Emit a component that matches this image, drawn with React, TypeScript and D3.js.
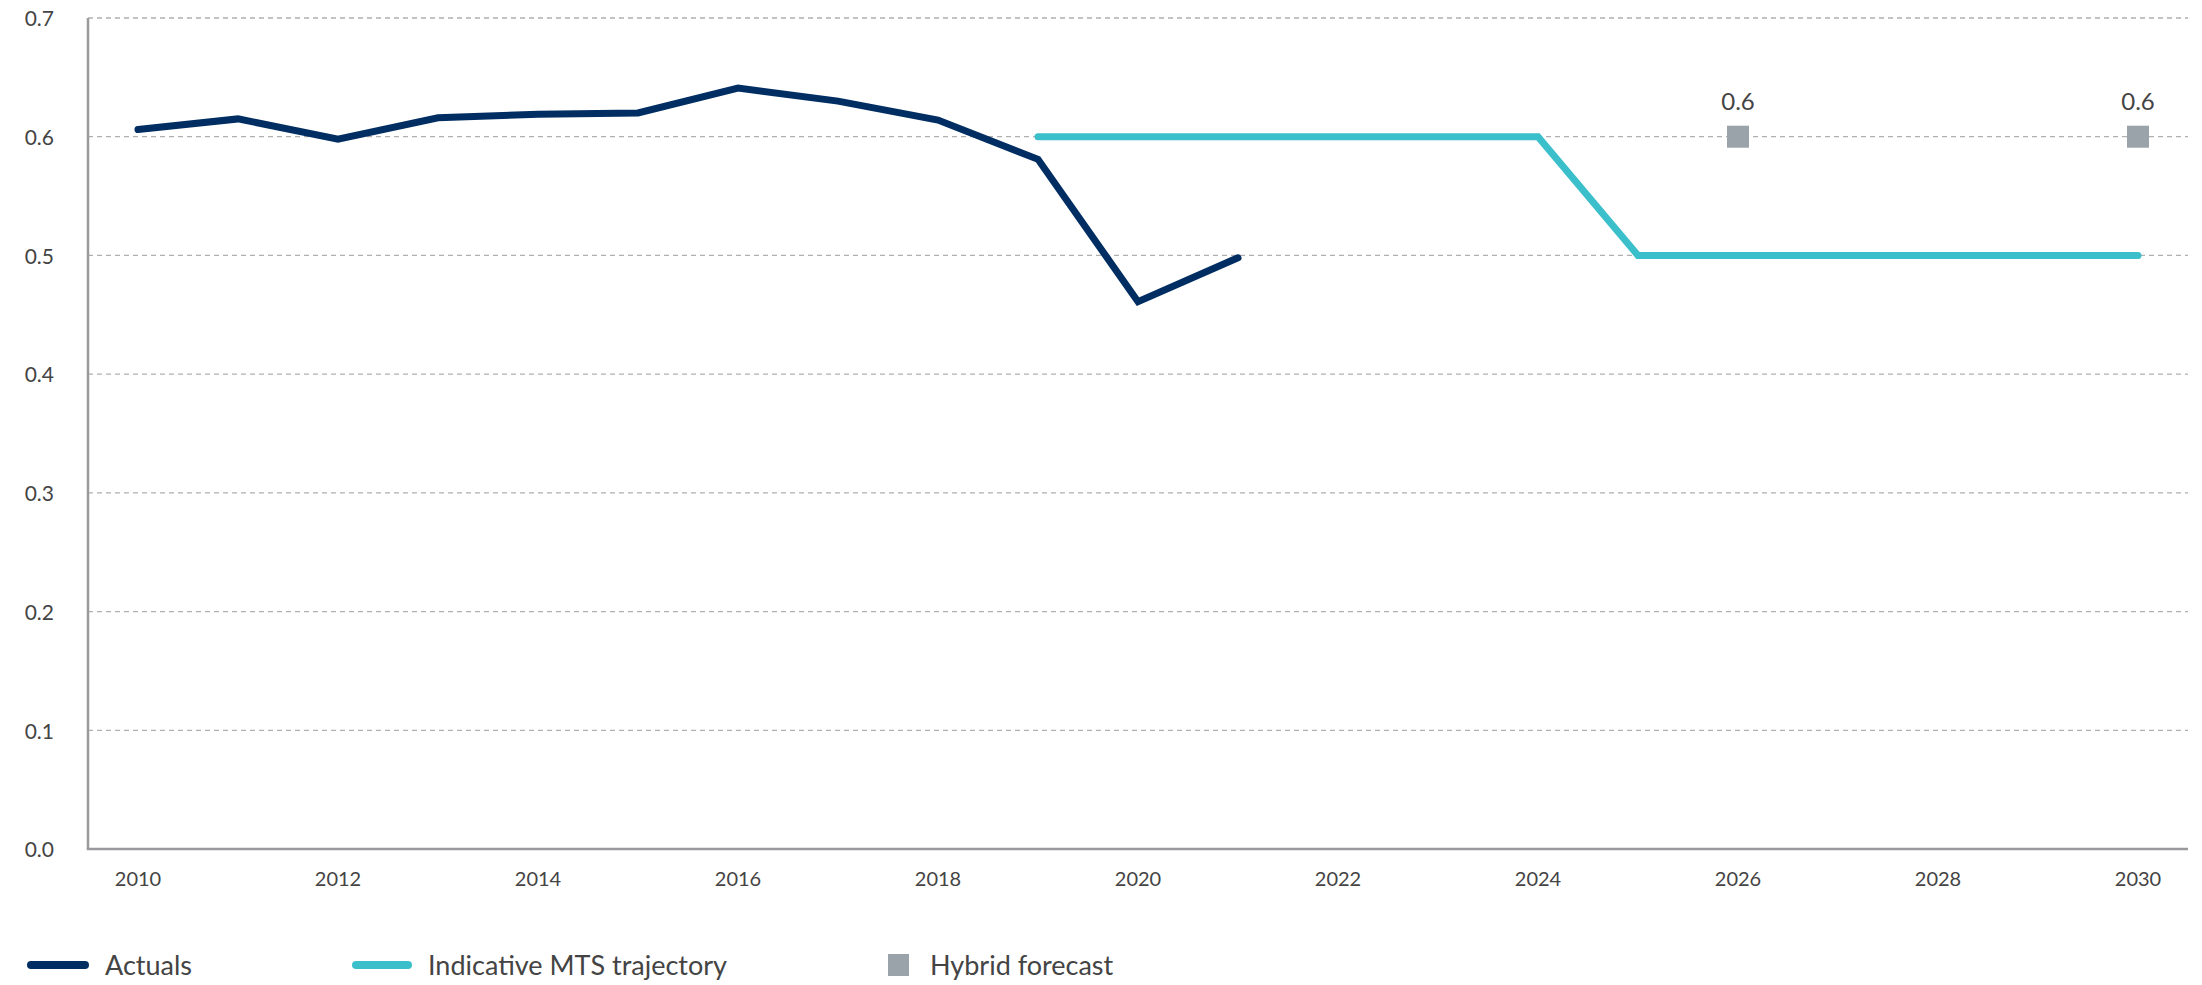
import React from "react";
import * as d3 from "d3";

// Series data
const years: number[] = d3.range(2010, 2031);
const actualYears: number[] = [2010, 2011, 2012, 2013, 2014, 2015, 2016, 2017, 2018, 2019, 2020, 2021];
const actualValues: number[] = [0.606, 0.615, 0.598, 0.616, 0.619, 0.62, 0.641, 0.63, 0.614, 0.581, 0.461, 0.498];
const mtsYears: number[] = [2019, 2020, 2021, 2022, 2023, 2024, 2025, 2026, 2027, 2028, 2029, 2030];
const mtsValues: number[] = [0.6, 0.6, 0.6, 0.6, 0.6, 0.6, 0.5, 0.5, 0.5, 0.5, 0.5, 0.5];
const hybridYears: number[] = [2026, 2030];
const hybridValues: number[] = [0.6, 0.6];
const yTicks: number[] = [0, 0.1, 0.2, 0.3, 0.4, 0.5, 0.6, 0.7];
const xTickYears: number[] = [2010, 2012, 2014, 2016, 2018, 2020, 2022, 2024, 2026, 2028, 2030];
const legendLabels: string[] = ["Actuals", "Indicative MTS trajectory", "Hybrid forecast"];

const W = 2202;
const H = 985;
const left = 88;
const right = 2188;
const top = 18;
const bottom = 849;

const NAVY = "#002d62";
const TEAL = "#3bbfca";
const GREY = "#99a3a9";
const AXIS = "#9a9a9e";
const FONT = "Lato, 'Open Sans', sans-serif";

export default function App() {
  const x = d3.scalePoint<number>().domain(years).range([left, right]).padding(0.5);
  const y = d3.scaleLinear().domain([0, 0.7]).range([bottom, top]);

  const line = d3
    .line<[number, number]>()
    .x((d) => x(d[0]) as number)
    .y((d) => y(d[1]));

  const actualPath = line(actualYears.map((yr, i) => [yr, actualValues[i]]) as [number, number][]) || "";
  const mtsPath = line(mtsYears.map((yr, i) => [yr, mtsValues[i]]) as [number, number][]) || "";

  const sq = 22;
  const legendY = 965;

  return (
    <svg
      width={W}
      height={H}
      style={{ position: "absolute", left: 0, top: 0, background: "#fff" }}
      fontFamily={FONT}
    >
      {/* gridlines */}
      {yTicks
        .filter((t) => t > 0)
        .map((t) => (
          <line
            key={"g" + t}
            x1={left}
            x2={right}
            y1={y(t)}
            y2={y(t)}
            stroke="#b0b0b0"
            strokeWidth={1.3}
            strokeDasharray="5,4"
          />
        ))}

      {/* axes */}
      <line x1={left} x2={left} y1={top} y2={bottom} stroke={AXIS} strokeWidth={2.5} />
      <line x1={left - 1.25} x2={right} y1={bottom} y2={bottom} stroke={AXIS} strokeWidth={2.5} />

      {/* y tick labels */}
      {yTicks.map((t) => (
        <text
          key={"y" + t}
          x={54}
          y={y(t) + 3}
          textAnchor="end"
          dominantBaseline="middle"
          fontSize={21}
          fill="#444"
        >
          {d3.format(".1f")(t)}
        </text>
      ))}

      {/* x tick labels */}
      {xTickYears.map((yr) => (
        <text
          key={"x" + yr}
          x={x(yr) as number}
          y={886}
          textAnchor="middle"
          fontSize={20}
          fill="#444"
        >
          {yr}
        </text>
      ))}

      {/* series */}
      <path d={mtsPath} fill="none" stroke={TEAL} strokeWidth={7} strokeLinecap="round" strokeLinejoin="miter" />
      <path d={actualPath} fill="none" stroke={NAVY} strokeWidth={7} strokeLinecap="round" strokeLinejoin="miter" />

      {hybridYears.map((yr, i) => (
        <g key={"h" + yr}>
          <rect
            x={(x(yr) as number) - sq / 2}
            y={y(hybridValues[i]) - sq / 2}
            width={sq}
            height={sq}
            fill={GREY}
          />
          <text
            x={x(yr) as number}
            y={y(hybridValues[i]) - sq / 2 - 16}
            textAnchor="middle"
            fontSize={24}
            fill="#444"
          >
            {d3.format(".1f")(hybridValues[i])}
          </text>
        </g>
      ))}

      {/* legend */}
      <g fontSize={27} fill="#444">
        <line x1={31} x2={85} y1={legendY} y2={legendY} stroke={NAVY} strokeWidth={8} strokeLinecap="round" />
        <text x={105} y={legendY + 10}>{legendLabels[0]}</text>
        <line x1={356} x2={408} y1={legendY} y2={legendY} stroke={TEAL} strokeWidth={8} strokeLinecap="round" />
        <text x={428} y={legendY + 10}>{legendLabels[1]}</text>
        <rect x={888} y={legendY - 11} width={21} height={22} fill={GREY} />
        <text x={930} y={legendY + 10}>{legendLabels[2]}</text>
      </g>
    </svg>
  );
}
